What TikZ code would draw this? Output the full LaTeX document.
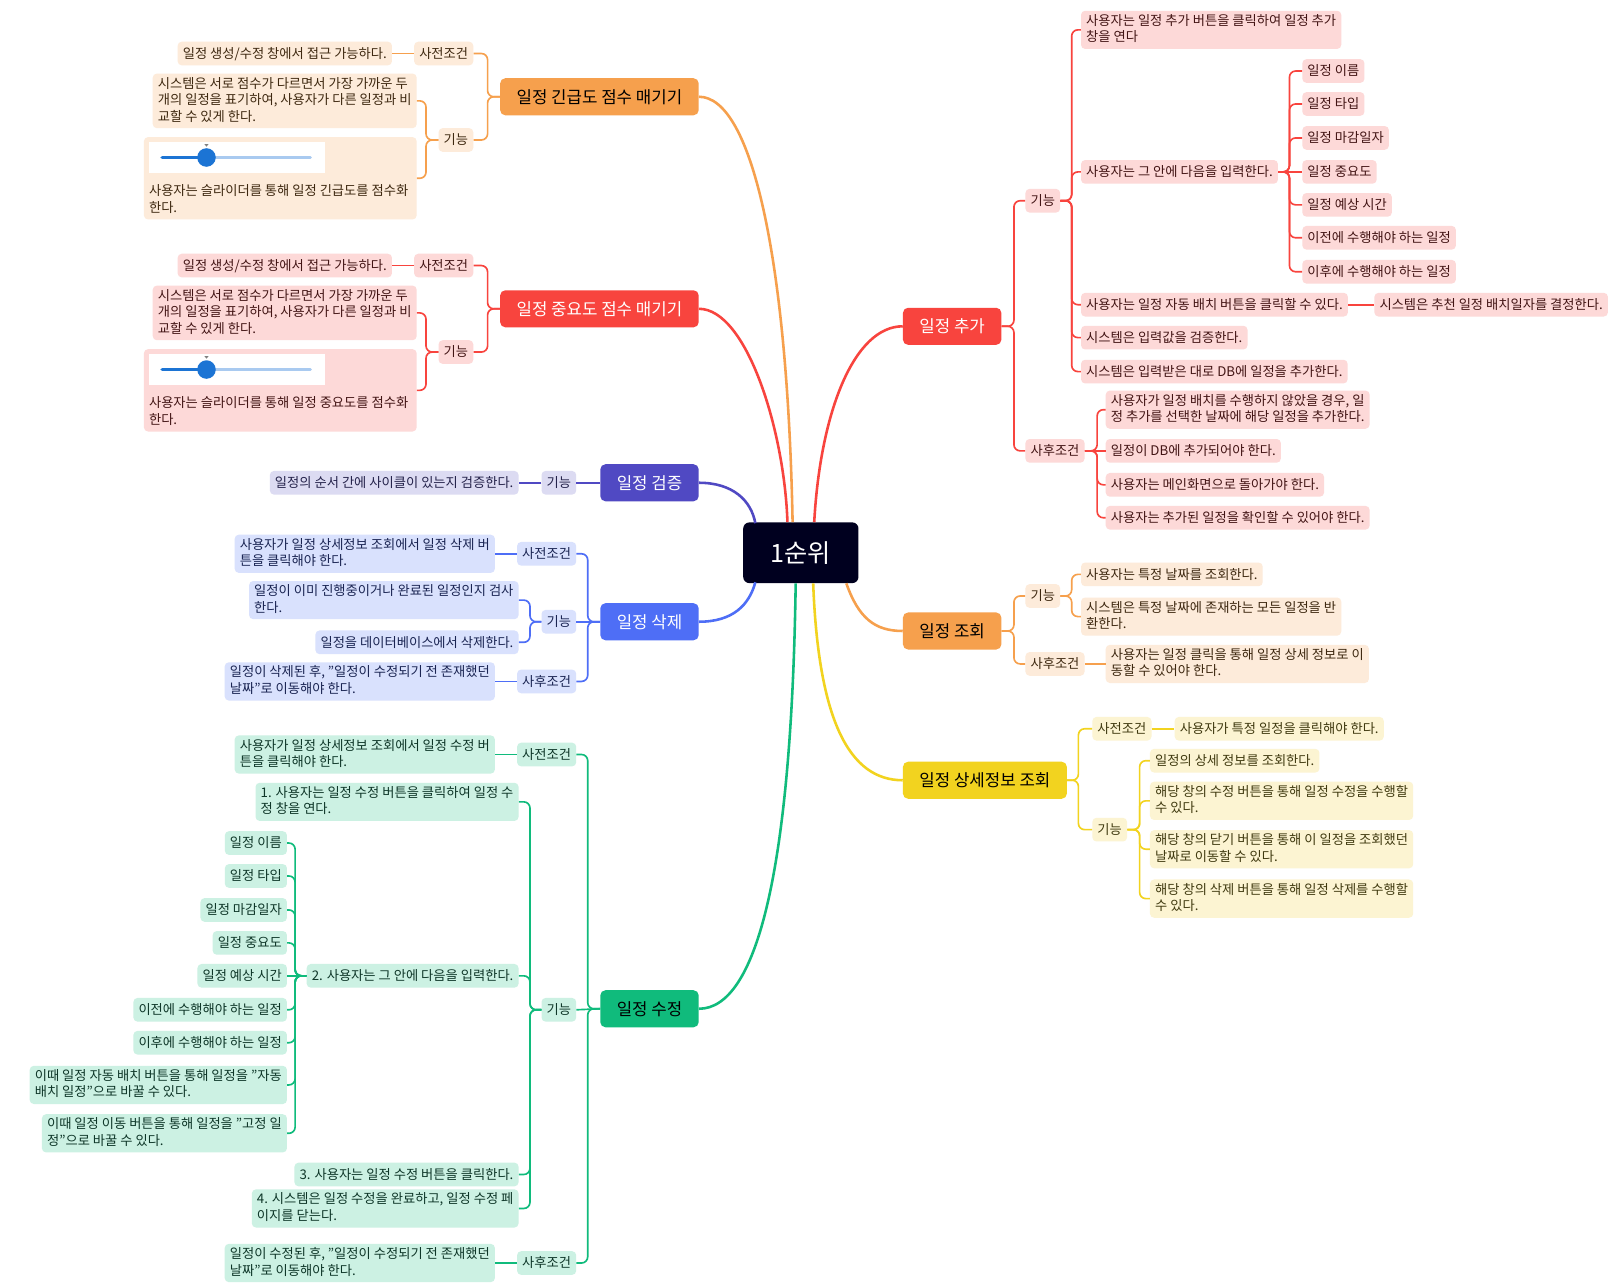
\documentclass[tikz,border=0pt]{standalone}
\usepackage{fontspec}
\setmainfont{Noto Sans CJK KR}
\usetikzlibrary{calc}
\definecolor{orA}{HTML}{F6A04D}
\definecolor{orL}{HTML}{FDEBDA}
\definecolor{orT}{HTML}{3E2810}
\definecolor{rdA}{HTML}{F8443E}
\definecolor{rdL}{HTML}{FDD9D8}
\definecolor{rdT}{HTML}{421414}
\definecolor{puA}{HTML}{5049C3}
\definecolor{puL}{HTML}{DCDBF2}
\definecolor{puT}{HTML}{24224A}
\definecolor{blA}{HTML}{4E6EF6}
\definecolor{blL}{HTML}{D9E1FD}
\definecolor{blT}{HTML}{1A2452}
\definecolor{grA}{HTML}{10BB7C}
\definecolor{grL}{HTML}{CCF1E3}
\definecolor{grT}{HTML}{0E3628}
\definecolor{ylA}{HTML}{F2D31F}
\definecolor{ylL}{HTML}{FCF4D2}
\definecolor{ylT}{HTML}{403A10}
\definecolor{navy}{HTML}{00001F}
\definecolor{sldD}{HTML}{1C74D4}
\definecolor{sldL}{HTML}{A9CAF0}
\newcommand{\kstrut}{\rule[-3.4pt]{0pt}{16pt}}
\tikzset{
  leaf/.style 2 args={fill=#1, text=#2, rounded corners=4pt, inner xsep=5pt, inner ysep=3.5pt, align=left,
     font=\fontsize{12.9pt}{16pt}\selectfont, execute at begin node=\kstrut, execute at end node=\kstrut},
  mainn/.style 2 args={fill=#1, text=#2, rounded corners=5pt, inner xsep=16pt, inner ysep=0pt,
     minimum height=36pt, font=\fontsize{16.3pt}{19pt}\selectfont},
  wire/.style={draw=#1, line width=1.6pt, rounded corners=6pt},
  trunk/.style={draw=#1, line width=2.5pt},
}
\begin{document}
\begin{tikzpicture}[x=1pt,y=-1pt]
\useasboundingbox (0,0) rectangle (1568,1250);
\fill[white] (0,0) rectangle (1568,1250);

% ---------- center ----------
\node[fill=navy, text=white, rounded corners=6pt, minimum width=112pt, minimum height=59pt,
      font=\fontsize{24.5pt}{27pt}\selectfont] (c) at (778,537) {1순위};

% ---------- 일정 긴급도 점수 매기기 ----------
\node[mainn={orA}{black}, anchor=east] (m1) at (679,94) {일정 긴급도 점수 매기기};
\node[leaf={orL}{orT}, anchor=east] (m1p) at (460,52) {사전조건};
\node[leaf={orL}{orT}, anchor=east] (m1pa) at (381,52) {일정 생성/수정 창에서 접근 가능하다.};
\node[leaf={orL}{orT}, anchor=east] (m1f) at (460,136) {기능};
\node[leaf={orL}{orT}, anchor=east] (m1fa) at (405,98) {시스템은 서로 점수가 다르면서 가장 가까운 두\\개의 일정을 표기하여, 사용자가 다른 일정과 비\\교할 수 있게 한다.};
\node[leaf={orL}{orT}, anchor=north east, minimum width=265pt, minimum height=80pt] (m1fb) at (405,133) {};
\node[leaf={orL}{orT}, fill=none, anchor=south west] (m1fbt) at (m1fb.south west) {사용자는 슬라이더를 통해 일정 긴급도를 점수화\\한다.};
\fill[white] ($(m1fb.north west)+(5,5)$) rectangle ($(m1fb.north west)+(176,35)$);
\draw[sldL, line width=2.6pt, line cap=round] ($(m1fb.north west)+(61,20)$) -- ($(m1fb.north west)+(162,20)$);
\draw[sldD, line width=3.6pt, line cap=round] ($(m1fb.north west)+(18,20)$) -- ($(m1fb.north west)+(61,20)$);
\fill[sldD] ($(m1fb.north west)+(61,20)$) circle (9pt);
\fill[gray] ($(m1fb.north west)+(59,7)$) -- ($(m1fb.north west)+(63,7)$) -- ($(m1fb.north west)+(61,9.5)$) -- cycle;
\draw[wire=orA] (m1.west) -- ++(-12,0) |- (m1p.east);
\draw[wire=orA] (m1.west) -- ++(-12,0) |- (m1f.east);
\draw[wire=orA] (m1p.west) -- (m1pa.east);
\draw[wire=orA] (m1f.west) -- ++(-12,0) |- (m1fa.east);
\draw[wire=orA] (m1f.west) -- ++(-12,0) |- (m1fb.east);

% ---------- 일정 중요도 점수 매기기 ----------
\node[mainn={rdA}{white}, anchor=east] (m2) at (679,300) {일정 중요도 점수 매기기};
\node[leaf={rdL}{rdT}, anchor=east] (m2p) at (460,258) {사전조건};
\node[leaf={rdL}{rdT}, anchor=east] (m2pa) at (381,258) {일정 생성/수정 창에서 접근 가능하다.};
\node[leaf={rdL}{rdT}, anchor=east] (m2f) at (460,342) {기능};
\node[leaf={rdL}{rdT}, anchor=east] (m2fa) at (405,304) {시스템은 서로 점수가 다르면서 가장 가까운 두\\개의 일정을 표기하여, 사용자가 다른 일정과 비\\교할 수 있게 한다.};
\node[leaf={rdL}{rdT}, anchor=north east, minimum width=265pt, minimum height=80pt] (m2fb) at (405,339) {};
\node[leaf={rdL}{rdT}, fill=none, anchor=south west] (m2fbt) at (m2fb.south west) {사용자는 슬라이더를 통해 일정 중요도를 점수화\\한다.};
\fill[white] ($(m2fb.north west)+(5,5)$) rectangle ($(m2fb.north west)+(176,35)$);
\draw[sldL, line width=2.6pt, line cap=round] ($(m2fb.north west)+(61,20)$) -- ($(m2fb.north west)+(162,20)$);
\draw[sldD, line width=3.6pt, line cap=round] ($(m2fb.north west)+(18,20)$) -- ($(m2fb.north west)+(61,20)$);
\fill[sldD] ($(m2fb.north west)+(61,20)$) circle (9pt);
\fill[gray] ($(m2fb.north west)+(59,7)$) -- ($(m2fb.north west)+(63,7)$) -- ($(m2fb.north west)+(61,9.5)$) -- cycle;
\draw[wire=rdA] (m2.west) -- ++(-12,0) |- (m2p.east);
\draw[wire=rdA] (m2.west) -- ++(-12,0) |- (m2f.east);
\draw[wire=rdA] (m2p.west) -- (m2pa.east);
\draw[wire=rdA] (m2f.west) -- ++(-12,0) |- (m2fa.east);
\draw[wire=rdA] (m2f.west) -- ++(-12,0) |- (m2fb.east);

% ---------- 일정 검증 ----------
\node[mainn={puA}{white}, anchor=east] (m3) at (679,469) {일정 검증};
\node[leaf={puL}{puT}, anchor=east] (m3f) at (560,469) {기능};
\node[leaf={puL}{puT}, anchor=east] (m3fa) at (504,469) {일정의 순서 간에 사이클이 있는지 검증한다.};
\draw[wire=puA] (m3.west) -- (m3f.east);
\draw[wire=puA] (m3f.west) -- (m3fa.east);

% ---------- 일정 삭제 ----------
\node[mainn={blA}{white}, anchor=east] (m4) at (679,604) {일정 삭제};
\node[leaf={blL}{blT}, anchor=east] (m4p) at (560,538) {사전조건};
\node[leaf={blL}{blT}, anchor=east] (m4pa) at (481,538) {사용자가 일정 상세정보 조회에서 일정 삭제 버\\튼을 클릭해야 한다.};
\node[leaf={blL}{blT}, anchor=east] (m4f) at (560,604) {기능};
\node[leaf={blL}{blT}, anchor=east] (m4fa) at (504,583) {일정이 이미 진행중이거나 완료된 일정인지 검사\\한다.};
\node[leaf={blL}{blT}, anchor=east] (m4fb) at (504,624) {일정을 데이터베이스에서 삭제한다.};
\node[leaf={blL}{blT}, anchor=east] (m4s) at (560,662) {사후조건};
\node[leaf={blL}{blT}, anchor=east] (m4sa) at (481,662) {일정이 삭제된 후, "일정이 수정되기 전 존재했던\\날짜"로 이동해야 한다.};
\draw[wire=blA] (m4.west) -- ++(-12,0) |- (m4p.east);
\draw[wire=blA] (m4.west) -- (m4f.east);
\draw[wire=blA] (m4.west) -- ++(-12,0) |- (m4s.east);
\draw[wire=blA] (m4p.west) -- (m4pa.east);
\draw[wire=blA] (m4s.west) -- (m4sa.east);
\draw[wire=blA] (m4f.west) -- ++(-11,0) |- (m4fa.east);
\draw[wire=blA] (m4f.west) -- ++(-11,0) |- (m4fb.east);

% ---------- 일정 수정 ----------
\node[mainn={grA}{black}, anchor=east] (m5) at (679,980) {일정 수정};
\node[leaf={grL}{grT}, anchor=east] (m5p) at (560,733) {사전조건};
\node[leaf={grL}{grT}, anchor=east] (m5pa) at (481,733) {사용자가 일정 상세정보 조회에서 일정 수정 버\\튼을 클릭해야 한다.};
\node[leaf={grL}{grT}, anchor=east] (m5f) at (560,981) {기능};
\node[leaf={grL}{grT}, anchor=east] (m5s) at (560,1227) {사후조건};
\node[leaf={grL}{grT}, anchor=east] (m5sa) at (481,1227) {일정이 수정된 후, "일정이 수정되기 전 존재했던\\날짜"로 이동해야 한다.};
\node[leaf={grL}{grT}, anchor=east] (s1) at (504,779) {1. 사용자는 일정 수정 버튼을 클릭하여 일정 수\\정 창을 연다.};
\node[leaf={grL}{grT}, anchor=east] (s2) at (504,948) {2. 사용자는 그 안에 다음을 입력한다.};
\node[leaf={grL}{grT}, anchor=east] (s3) at (504,1141) {3. 사용자는 일정 수정 버튼을 클릭한다.};
\node[leaf={grL}{grT}, anchor=east] (s4) at (504,1174) {4. 시스템은 일정 수정을 완료하고, 일정 수정 페\\이지를 닫는다.};
\node[leaf={grL}{grT}, anchor=east] (e1) at (279,819) {일정 이름};
\node[leaf={grL}{grT}, anchor=east] (e2) at (279,851) {일정 타입};
\node[leaf={grL}{grT}, anchor=east] (e3) at (279,884) {일정 마감일자};
\node[leaf={grL}{grT}, anchor=east] (e4) at (279,916) {일정 중요도};
\node[leaf={grL}{grT}, anchor=east] (e5) at (279,948) {일정 예상 시간};
\node[leaf={grL}{grT}, anchor=east] (e6) at (279,981) {이전에 수행해야 하는 일정};
\node[leaf={grL}{grT}, anchor=east] (e7) at (279,1013) {이후에 수행해야 하는 일정};
\node[leaf={grL}{grT}, anchor=east] (e8) at (279,1054) {이때 일정 자동 배치 버튼을 통해 일정을 "자동\\배치 일정"으로 바꿀 수 있다.};
\node[leaf={grL}{grT}, anchor=east] (e9) at (279,1101) {이때 일정 이동 버튼을 통해 일정을 "고정 일\\정"으로 바꿀 수 있다.};
\draw[wire=grA] (m5.west) -- ++(-12,0) |- (m5p.east);
\draw[wire=grA] (m5.west) -- (m5f.east);
\draw[wire=grA] (m5.west) -- ++(-12,0) |- (m5s.east);
\draw[wire=grA] (m5p.west) -- (m5pa.east);
\draw[wire=grA] (m5s.west) -- (m5sa.east);
\foreach \k in {s1,s2,s3,s4} {\draw[wire=grA] (m5f.west) -- ++(-11,0) |- (\k.east);}
\draw[wire=grA] (s2.west) -- (e5.east);
\foreach \k in {e1,e2,e3,e4,e6,e7,e8,e9} {\draw[wire=grA] (s2.west) -- ++(-11,0) |- (\k.east);}

% ---------- 일정 추가 ----------
\node[mainn={rdA}{white}, anchor=west] (r1) at (877,317) {일정 추가};
\node[leaf={rdL}{rdT}, anchor=west] (r1f) at (996,195) {기능};
\node[leaf={rdL}{rdT}, anchor=west] (r1s) at (996,438) {사후조건};
\node[leaf={rdL}{rdT}, anchor=west] (r1a) at (1050,29) {사용자는 일정 추가 버튼을 클릭하여 일정 추가\\창을 연다};
\node[leaf={rdL}{rdT}, anchor=west] (r1b) at (1050,167) {사용자는 그 안에 다음을 입력한다.};
\node[leaf={rdL}{rdT}, anchor=west] (r1c) at (1050,296) {사용자는 일정 자동 배치 버튼을 클릭할 수 있다.};
\node[leaf={rdL}{rdT}, anchor=west] (r1d) at (1050,328) {시스템은 입력값을 검증한다.};
\node[leaf={rdL}{rdT}, anchor=west] (r1e) at (1050,361) {시스템은 입력받은 대로 DB에 일정을 추가한다.};
\node[leaf={rdL}{rdT}, anchor=west] (r1c1) at (1335,296) {시스템은 추천 일정 배치일자를 결정한다.};
\node[leaf={rdL}{rdT}, anchor=west] (t1) at (1265,69) {일정 이름};
\node[leaf={rdL}{rdT}, anchor=west] (t2) at (1265,101) {일정 타입};
\node[leaf={rdL}{rdT}, anchor=west] (t3) at (1265,134) {일정 마감일자};
\node[leaf={rdL}{rdT}, anchor=west] (t4) at (1265,167) {일정 중요도};
\node[leaf={rdL}{rdT}, anchor=west] (t5) at (1265,199) {일정 예상 시간};
\node[leaf={rdL}{rdT}, anchor=west] (t6) at (1265,231) {이전에 수행해야 하는 일정};
\node[leaf={rdL}{rdT}, anchor=west] (t7) at (1265,264) {이후에 수행해야 하는 일정};
\node[leaf={rdL}{rdT}, anchor=west] (r1sa) at (1074,398) {사용자가 일정 배치를 수행하지 않았을 경우, 일\\정 추가를 선택한 날짜에 해당 일정을 추가한다.};
\node[leaf={rdL}{rdT}, anchor=west] (r1sb) at (1074,438) {일정이 DB에 추가되어야 한다.};
\node[leaf={rdL}{rdT}, anchor=west] (r1sc) at (1074,471) {사용자는 메인화면으로 돌아가야 한다.};
\node[leaf={rdL}{rdT}, anchor=west] (r1sd) at (1074,503) {사용자는 추가된 일정을 확인할 수 있어야 한다.};
\draw[wire=rdA] (r1.east) -- ++(12,0) |- (r1f.west);
\draw[wire=rdA] (r1.east) -- ++(12,0) |- (r1s.west);
\foreach \k in {r1a,r1b,r1c,r1d,r1e} {\draw[wire=rdA] (r1f.east) -- ++(11,0) |- (\k.west);}
\draw[wire=rdA] (r1b.east) -- (t4.west);
\foreach \k in {t1,t2,t3,t5,t6,t7} {\draw[wire=rdA] (r1b.east) -- ++(11,0) |- (\k.west);}
\draw[wire=rdA] (r1c.east) -- (r1c1.west);
\draw[wire=rdA] (r1s.east) -- (r1sb.west);
\foreach \k in {r1sa,r1sc,r1sd} {\draw[wire=rdA] (r1s.east) -- ++(12,0) |- (\k.west);}

% ---------- 일정 조회 ----------
\node[mainn={orA}{black}, anchor=west] (r2) at (877,613) {일정 조회};
\node[leaf={orL}{orT}, anchor=west] (r2f) at (996,579) {기능};
\node[leaf={orL}{orT}, anchor=west] (r2s) at (996,645) {사후조건};
\node[leaf={orL}{orT}, anchor=west] (r2a) at (1050,558) {사용자는 특정 날짜를 조회한다.};
\node[leaf={orL}{orT}, anchor=west] (r2b) at (1050,599) {시스템은 특정 날짜에 존재하는 모든 일정을 반\\환한다.};
\node[leaf={orL}{orT}, anchor=west] (r2sa) at (1074,645) {사용자는 일정 클릭을 통해 일정 상세 정보로 이\\동할 수 있어야 한다.};
\draw[wire=orA] (r2.east) -- ++(12,0) |- (r2f.west);
\draw[wire=orA] (r2.east) -- ++(12,0) |- (r2s.west);
\draw[wire=orA] (r2f.east) -- ++(11,0) |- (r2a.west);
\draw[wire=orA] (r2f.east) -- ++(11,0) |- (r2b.west);
\draw[wire=orA] (r2s.east) -- (r2sa.west);

% ---------- 일정 상세정보 조회 ----------
\node[mainn={ylA}{black}, anchor=west] (r3) at (877,758) {일정 상세정보 조회};
\node[leaf={ylL}{ylT}, anchor=west] (r3p) at (1061,708) {사전조건};
\node[leaf={ylL}{ylT}, anchor=west] (r3f) at (1061,806) {기능};
\node[leaf={ylL}{ylT}, anchor=west] (r3pa) at (1141,708) {사용자가 특정 일정을 클릭해야 한다.};
\node[leaf={ylL}{ylT}, anchor=west] (r3a) at (1117,739) {일정의 상세 정보를 조회한다.};
\node[leaf={ylL}{ylT}, anchor=west] (r3b) at (1117,778) {해당 창의 수정 버튼을 통해 일정 수정을 수행할\\수 있다.};
\node[leaf={ylL}{ylT}, anchor=west] (r3c) at (1117,825) {해당 창의 닫기 버튼을 통해 이 일정을 조회했던\\날짜로 이동할 수 있다.};
\node[leaf={ylL}{ylT}, anchor=west] (r3d) at (1117,873) {해당 창의 삭제 버튼을 통해 일정 삭제를 수행할\\수 있다.};
\draw[wire=ylA] (r3.east) -- ++(11,0) |- (r3p.west);
\draw[wire=ylA] (r3.east) -- ++(11,0) |- (r3f.west);
\draw[wire=ylA] (r3p.east) -- (r3pa.west);
\foreach \k in {r3a,r3b,r3c,r3d} {\draw[wire=ylA] (r3f.east) -- ++(12,0) |- (\k.west);}

% ---------- trunks ----------
\draw[trunk=orA] ($(c.north)+(-8,0)$) .. controls +(-5,-258) and +(51,0) .. (m1.east);
\draw[trunk=rdA] ($(c.north)+(-13,0)$) .. controls +(-3,-90) and +(46,0) .. (m2.east);
\draw[trunk=puA] ($(c.north west)+(12,1)$) .. controls +(-4,-22) and +(33,0) .. (m3.east);
\draw[trunk=blA] ($(c.south west)+(12,-1)$) .. controls +(-6,22) and +(33,0) .. (m4.east);
\draw[trunk=grA] ($(c.south)+(-5,0)$) .. controls +(-4,280) and +(56,0) .. (m5.east);
\draw[trunk=rdA] ($(c.north)+(13,0)$) .. controls +(6,-108) and +(-47,0) .. (r1.west);
\draw[trunk=orA] ($(c.south east)+(-12,0)$) .. controls +(12,34) and +(-27,0) .. (r2.west);
\draw[trunk=ylA] ($(c.south)+(12,0)$) .. controls +(5,133) and +(-52,0) .. (r3.west);
\end{tikzpicture}
\end{document}
